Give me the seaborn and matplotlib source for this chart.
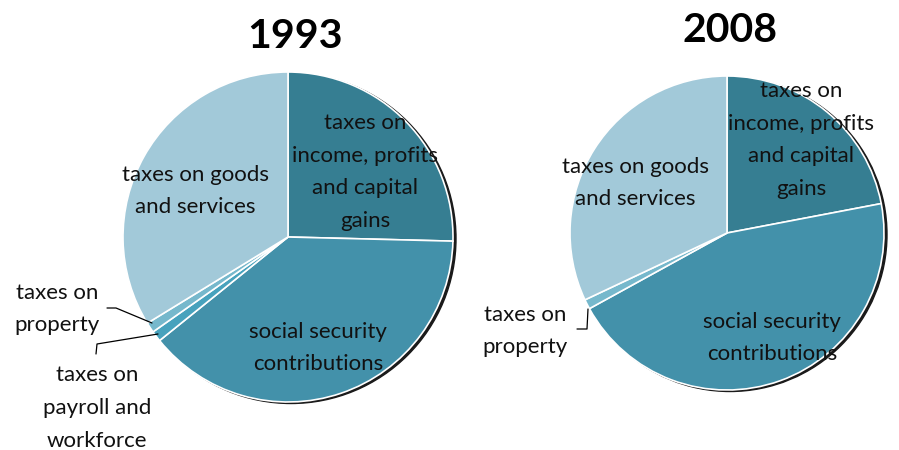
import matplotlib
matplotlib.use("Agg")
import matplotlib.pyplot as plt
import seaborn as sns
from matplotlib.patches import Circle

sns.set_theme(style="white")
plt.rcParams["font.family"] = ["Lato", "DejaVu Sans"]

# Tax revenue structure, share of total (%)
categories = [
    "taxes on income, profits and capital gains",
    "social security contributions",
    "taxes on payroll and workforce",
    "taxes on property",
    "taxes on goods and services",
]
shares_1993 = [25.4, 38.8, 1.05, 1.0, 33.75]
shares_2008 = [22.0, 45.0, 0.0, 1.0, 32.0]
years = ["1993", "2008"]

colors = {
    categories[0]: "#367e92",
    categories[1]: "#4391aa",
    categories[2]: "#47a2bd",
    categories[3]: "#76b8cc",
    categories[4]: "#a2c9d9",
}

W, H = 899, 450
fig = plt.figure(figsize=(W / 100, H / 100), dpi=100)
ax = fig.add_axes([0, 0, 1, 1])


def py(y):
    # convert a top-down pixel row to axis y
    return H - y


def draw_pie(shares, center, radius):
    vals = [v for v in shares if v > 0]
    cols = [colors[c] for c, v in zip(categories, shares) if v > 0]
    cx, cy = center
    ax.add_patch(Circle((cx + 3, cy - 1.5), radius, color="#1a1a1a", zorder=0))
    ax.pie(vals, colors=cols, startangle=90, counterclock=False,
           center=center, radius=radius,
           wedgeprops=dict(edgecolor="white", linewidth=1.2))


draw_pie(shares_1993, (288, py(237)), 165)
draw_pie(shares_2008, (727, py(233)), 157)

lab = dict(fontsize=16, ha="center", va="center", color="#111111",
           linespacing=1.8)
title = dict(fontsize=29.5, fontweight="bold", ha="center", va="center",
             color="black")

# 1993
ax.text(295, py(36), years[0], **title)
ax.text(195, py(191), "taxes on goods\nand services", **lab)
ax.text(365, py(172), "taxes on\nincome, profits\nand capital\ngains", **lab)
ax.text(318, py(348), "social security\ncontributions", **lab)
ax.text(57, py(309), "taxes on\nproperty", **lab)
ax.text(97, py(408), "taxes on\npayroll and\nworkforce", **lab)
ax.plot([107, 116, 152], [py(308), py(308), py(323)], color="black", lw=0.9)
ax.plot([96, 97, 158], [py(354), py(344), py(334)], color="black", lw=0.9)

# 2008
ax.text(730, py(30), years[1], **title)
ax.text(635, py(183), "taxes on goods\nand services", **lab)
ax.text(801, py(140), "taxes on\nincome, profits\nand capital\ngains", **lab)
ax.text(772, py(338), "social security\ncontributions", **lab)
ax.text(525, py(331), "taxes on\nproperty", **lab)
ax.plot([577, 587, 588], [py(329), py(329), py(309)], color="black", lw=0.9)

ax.set_xlim(0, W)
ax.set_ylim(0, H)
ax.set_aspect("equal")
ax.axis("off")

fig.savefig("out.png", dpi=100, facecolor="white")
